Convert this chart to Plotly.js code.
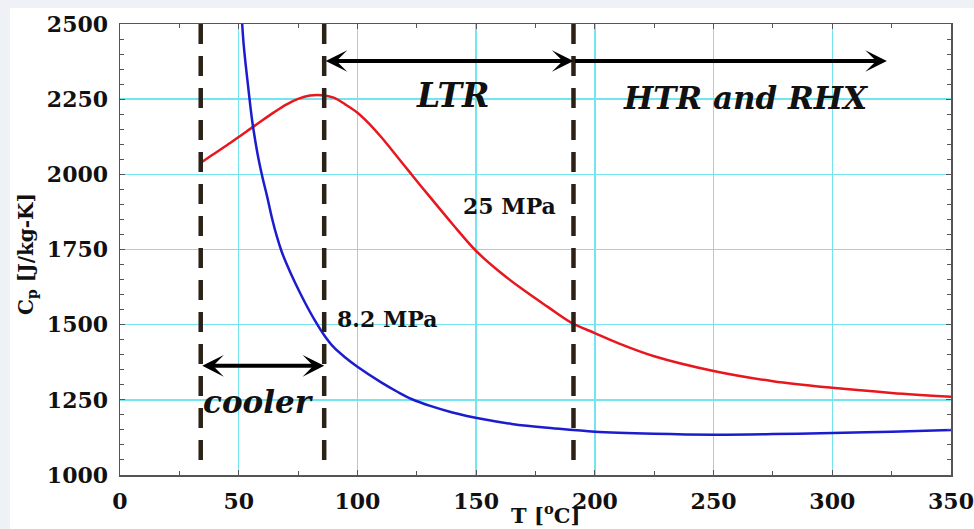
<!DOCTYPE html>
<html>
<head>
<meta charset="utf-8">
<script src="https://cdn.plot.ly/plotly-3.0.1.min.js"></script>
<style>html,body{margin:0;padding:0;background:#fff;}#chart{width:974px;height:529px;}</style>
</head>
<body>
<div id="chart"></div>
<script>
// 25 MPa curve
var t25 = [34.5, 40, 45, 50, 55, 60, 65, 70, 75, 80, 85, 90, 95, 100, 105, 110, 115, 120, 125, 130, 140, 150, 160, 170, 180, 190, 200, 210, 225, 250, 275, 300, 325, 350];
var cp25 = [2041, 2070, 2097, 2124, 2152, 2180, 2207, 2232, 2251, 2262, 2263, 2255, 2232, 2205, 2168, 2124, 2076, 2027, 1978, 1930, 1835, 1745, 1675, 1615, 1560, 1507, 1472, 1438, 1395, 1346, 1312, 1290, 1273, 1260];
// 8.2 MPa curve
var t82 = [51, 52, 53, 54, 55, 56, 58, 60, 62, 64, 66, 68, 70, 74, 78, 82, 86, 90, 95, 100, 110, 117, 123, 131, 140, 152, 165, 180, 191, 200, 225, 250, 275, 300, 325, 350];
var cp82 = [2560, 2440, 2360, 2290, 2220, 2160, 2065, 1990, 1925, 1855, 1795, 1745, 1705, 1635, 1572, 1515, 1465, 1425, 1390, 1360, 1308, 1276, 1252, 1229, 1208, 1187, 1170, 1157, 1150, 1144, 1137, 1134, 1136, 1140, 1144, 1150];
// section boundaries (dashed lines)
var boundaries = [34, 86, 191];
var dashTop = 2500, dashBottom = 1040;
// arrows: [from T, to T, at Cp, heads]
var arrowFrom = [86, 191, 34];
var arrowTo = [191, 323, 86];
var arrowCp = [2377, 2377, 1363];
var arrowSide = ['end+start', 'end', 'end+start'];
// labels
var labelText = ['LTR', 'HTR and RHX', 'cooler', '25 MPa', '8.2 MPa'];
var labelT = [140.3, 263.7, 58.5, 164, 112.5];
var labelCp = [2262, 2255, 1242, 1896, 1518];
var labelItalic = [true, true, true, false, false];
var labelSize = [33, 31, 31, 22, 22];

var xTicks = [0, 50, 100, 150, 200, 250, 300, 350];
var yTicks = [1000, 1250, 1500, 1750, 2000, 2250, 2500];

var traces = [
  {x: t25, y: cp25, mode: 'lines', line: {color: '#e8171d', width: 2.5, shape: 'spline', smoothing: 1}, hoverinfo: 'skip'},
  {x: t82, y: cp82, mode: 'lines', line: {color: '#1c1ccf', width: 2.5, shape: 'spline', smoothing: 1}, hoverinfo: 'skip'}
];
boundaries.forEach(function (b) {
  traces.push({x: [b, b], y: [dashTop, dashBottom], mode: 'lines',
    line: {color: '#2b2116', width: 4.5, dash: '20px,12px'}, hoverinfo: 'skip'});
});

var serif = 'DejaVu Serif, Liberation Serif, serif';
var annotations = [];
for (var i = 0; i < arrowFrom.length; i++) {
  annotations.push({
    x: arrowTo[i], y: arrowCp[i], ax: arrowFrom[i], ay: arrowCp[i],
    xref: 'x', yref: 'y', axref: 'x', ayref: 'y', text: '', showarrow: true,
    arrowside: arrowSide[i], arrowhead: 3, startarrowhead: 3,
    arrowsize: 0.9, startarrowsize: 0.9, arrowwidth: 4, arrowcolor: '#000',
    standoff: 0, startstandoff: 0
  });
}
for (var j = 0; j < labelText.length; j++) {
  annotations.push({
    x: labelT[j], y: labelCp[j], xref: 'x', yref: 'y', text: labelText[j], showarrow: false,
    xanchor: 'center', yanchor: 'middle',
    font: {family: serif, size: labelSize[j], color: '#111', weight: 'bold', style: labelItalic[j] ? 'italic' : 'normal'}
  });
}
annotations.push({
  x: -0.112, y: 0.49, xref: 'paper', yref: 'paper', text: 'C<sub>p</sub> [J/kg-K]', showarrow: false,
  textangle: -90, xanchor: 'center', yanchor: 'middle',
  font: {family: serif, size: 20, color: '#111', weight: 'bold'}
});
annotations.push({
  x: 0.5126, y: -0.052, xref: 'paper', yref: 'paper', text: 'T [<sup>o</sup>C]', showarrow: false,
  xanchor: 'center', yanchor: 'top',
  font: {family: serif, size: 21, color: '#111', weight: 'bold'}
});

var axisCommon = {
  showgrid: true, gridcolor: '#74e4ee', gridwidth: 1.5, zeroline: false,
  showline: true, linecolor: '#555', linewidth: 1.5, mirror: 'ticks',
  ticks: 'inside', ticklen: 5, tickcolor: '#555', tickwidth: 1,
  tickfont: {family: serif, size: 22, color: '#111', weight: 'bold'}
};

var layout = {
  width: 974, height: 529,
  margin: {l: 120, r: 23, t: 24, b: 54},
  paper_bgcolor: '#eef1f6', plot_bgcolor: '#fff',
  showlegend: false,
  xaxis: Object.assign({}, axisCommon, {
    range: [0, 350], tickmode: 'array', tickvals: xTicks, ticktext: xTicks.map(String),
    minor: {dtick: 25, tick0: 0, ticks: 'inside', ticklen: 4, tickcolor: '#555', showgrid: false},
    ticklabelstandoff: 6
  }),
  yaxis: Object.assign({}, axisCommon, {
    range: [1000, 2500], tickmode: 'array', tickvals: yTicks, ticktext: yTicks.map(String),
    minor: {dtick: 50, tick0: 1000, ticks: 'inside', ticklen: 4, tickcolor: '#555', showgrid: false},
    ticklabelstandoff: 6
  }),
  shapes: [{
    type: 'rect', xref: 'paper', yref: 'paper', x0: -0.1324, x1: 1.03, y0: -0.12, y1: 1.0355,
    fillcolor: '#fff', line: {width: 0}, layer: 'below'
  }],
  annotations: annotations
};

Plotly.newPlot('chart', traces, layout, {displayModeBar: false, staticPlot: true});
</script>
</body>
</html>
